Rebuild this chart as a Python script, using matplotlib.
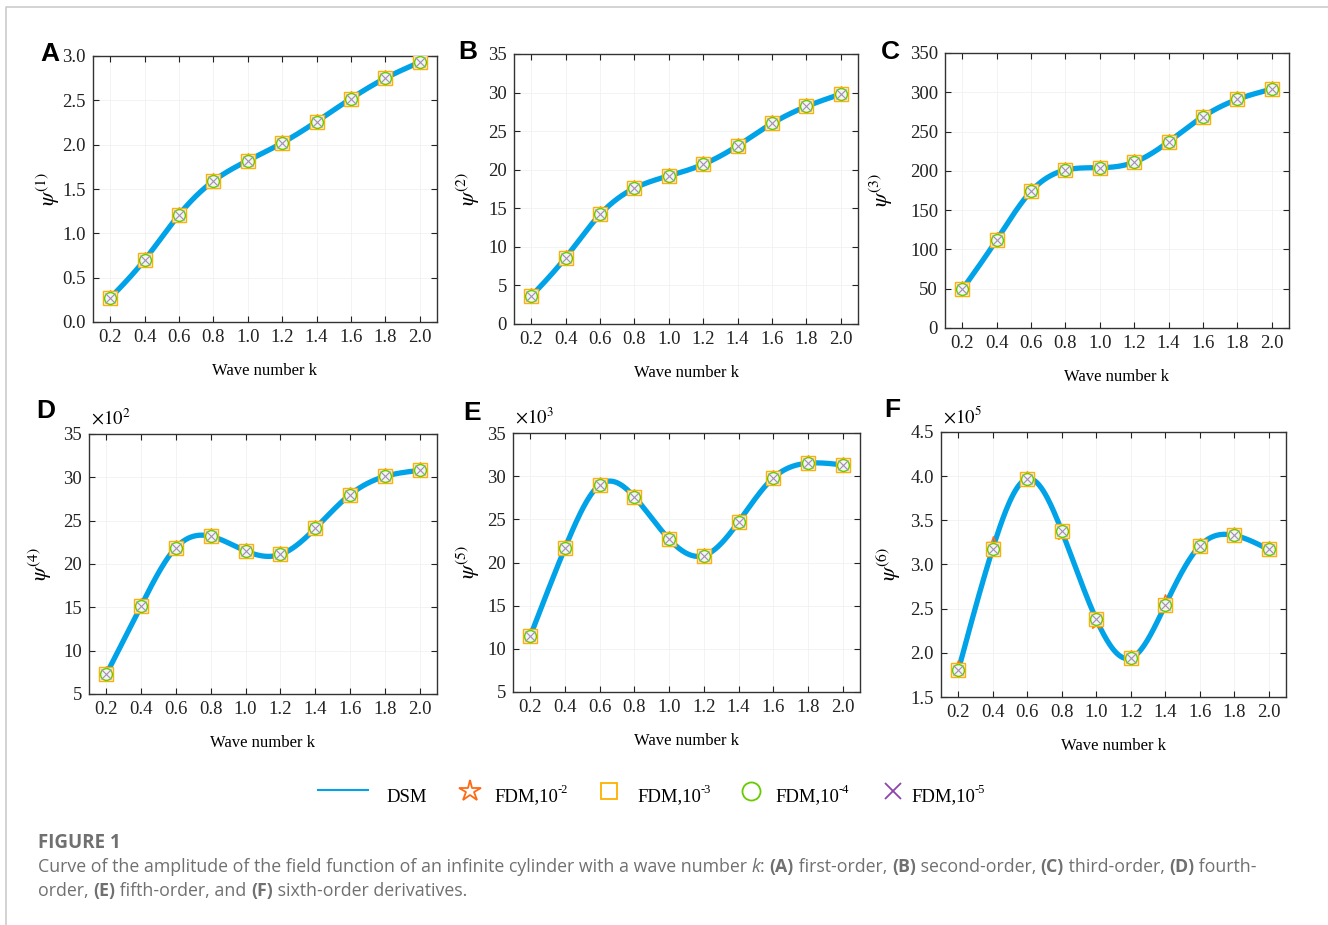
import numpy as np
import matplotlib
matplotlib.use("Agg")
import matplotlib.pyplot as plt
from matplotlib.lines import Line2D

# ---------------------------------------------------------------- data
k = [0.2, 0.4, 0.6, 0.8, 1.0, 1.2, 1.4, 1.6, 1.8, 2.0]

psi1 = [0.27, 0.70, 1.21, 1.59, 1.82, 2.02, 2.26, 2.52, 2.75, 2.93]
psi2 = [3.6, 8.6, 14.2, 17.6, 19.2, 20.7, 23.1, 26.0, 28.2, 29.8]
psi3 = [49, 112, 174, 201, 204, 211, 237, 269, 291, 304]
psi4 = [7.3, 15.2, 21.9, 23.2, 21.5, 21.1, 24.1, 28.0, 30.1, 30.8]        # x10^2
psi5 = [11.5, 21.7, 29.0, 27.6, 22.7, 20.8, 24.7, 29.8, 31.5, 31.3]       # x10^3
psi6 = [1.80, 3.18, 3.97, 3.38, 2.38, 1.94, 2.54, 3.21, 3.33, 3.17]       # x10^5
psi6_fdm2 = [1.83, 3.23, 3.97, 3.36, 2.35, 1.94, 2.57, 3.21, 3.33, 3.17]

xticks = [0.2, 0.4, 0.6, 0.8, 1.0, 1.2, 1.4, 1.6, 1.8, 2.0]
xticklabels = ["0.2", "0.4", "0.6", "0.8", "1.0", "1.2", "1.4", "1.6", "1.8", "2.0"]

# legend: base text, superscript
legend_labels = [("DSM", ""), ("FDM,10", "-2"), ("FDM,10", "-3"), ("FDM,10", "-4"), ("FDM,10", "-5")]

# panel: letter, values, star values, ylabel, yticks, tick format, multiplier
panels = [
    ("A", psi1, psi1, r"$\psi^{(1)}$", np.arange(0, 3.01, 0.5), "%.1f", None),
    ("B", psi2, psi2, r"$\psi^{(2)}$", np.arange(0, 36, 5), "%d", None),
    ("C", psi3, psi3, r"$\psi^{(3)}$", np.arange(0, 351, 50), "%d", None),
    ("D", psi4, psi4, r"$\psi^{(4)}$", np.arange(5, 36, 5), "%d", r"$\times10^{2}$"),
    ("E", psi5, psi5, r"$\psi^{(5)}$", np.arange(5, 36, 5), "%d", r"$\times10^{3}$"),
    ("F", psi6, psi6_fdm2, r"$\psi^{(6)}$", np.arange(1.5, 4.51, 0.5), "%.1f", r"$\times10^{5}$"),
]

# ---------------------------------------------------------------- layout (pixels)
W, H = 1328, 925
boxes = [(93, 437, 56, 322), (514, 858, 54, 324), (945, 1289, 53, 328),
         (89, 437, 434, 694), (513, 860, 433, 692), (941, 1286, 432, 697)]
letter_pos = [(50, 54), (468, 52), (890, 52), (46, 411), (472, 413), (892, 410)]
ylab_x = [-0.09, -0.093, -0.145, -0.10, -0.089, -0.11]

BLUE = "#00a2e8"
STAR = "#ff6a13"
SQUARE = "#ffb000"
CIRCLE = "#66cc00"
CROSS = "#8e44ad"

plt.rcParams["font.family"] = ["Liberation Serif"]
plt.rcParams["mathtext.fontset"] = "stix"


def spline(x, y, n=300):
    # natural cubic spline through the points, for the smooth DSM curve
    x = np.asarray(x, float)
    y = np.asarray(y, float)
    m = len(x)
    h = np.diff(x)
    A = np.zeros((m, m))
    b = np.zeros(m)
    A[0, 0] = A[-1, -1] = 1
    for i in range(1, m - 1):
        A[i, i - 1] = h[i - 1]
        A[i, i] = 2 * (h[i - 1] + h[i])
        A[i, i + 1] = h[i]
        b[i] = 3 * ((y[i + 1] - y[i]) / h[i] - (y[i] - y[i - 1]) / h[i - 1])
    c = np.linalg.solve(A, b)
    xs = np.linspace(x[0], x[-1], n)
    idx = np.clip(np.searchsorted(x, xs) - 1, 0, m - 2)
    dx = xs - x[idx]
    bb = (y[idx + 1] - y[idx]) / h[idx] - h[idx] * (2 * c[idx] + c[idx + 1]) / 3
    dd = (c[idx + 1] - c[idx]) / (3 * h[idx])
    ys = y[idx] + bb * dx + c[idx] * dx ** 2 + dd * dx ** 3
    return xs, ys


fig = plt.figure(figsize=(W / 100, H / 100), dpi=100)
renderer = fig.canvas.get_renderer()

for (letter, vals, star, ylab, yt, fmt, mult), (l, r, t, b), (lx, ly), yx in zip(
        panels, boxes, letter_pos, ylab_x):
    ax = fig.add_axes([l / W, 1 - b / H, (r - l) / W, (b - t) / H])
    ax.grid(True, color="#f1f1f1", lw=0.6)
    ax.set_axisbelow(True)
    xs, ys = spline(k, vals)
    ax.plot(xs, ys, color=BLUE, lw=3.8, zorder=2)
    ax.plot(k, star, ls="", marker="*", ms=11, mfc="none", mec=STAR, mew=1.0, zorder=3)
    ax.plot(k, vals, ls="", marker="s", ms=10, mfc="#f4f4f4", mec=SQUARE, mew=1.0, zorder=4)
    ax.plot(k, vals, ls="", marker="o", ms=8.5, mfc="none", mec=CIRCLE, mew=1.0, zorder=5)
    ax.plot(k, vals, ls="", marker="x", ms=6.5, mec="#a090b0", mew=0.8, zorder=6)
    ax.set_xlim(0.1, 2.1)
    ax.set_ylim(yt[0], yt[-1])
    ax.set_xticks(xticks)
    ax.set_xticklabels(xticklabels)
    ax.set_yticks(yt)
    ax.set_yticklabels([fmt % v for v in yt])
    ax.tick_params(direction="in", top=True, right=True, length=4, width=0.8,
                   labelsize=13.5, pad=5, colors="#222222")
    for s in ax.spines.values():
        s.set_color("#333333")
        s.set_linewidth(1.0)
    ax.set_xlabel("Wave number k", fontsize=12, labelpad=12)
    ax.set_ylabel(ylab, fontsize=16)
    ax.yaxis.set_label_coords(yx, 0.5)
    fig.text(lx / W, 1 - ly / H, letter, family="Liberation Sans", weight="bold",
             fontsize=19, ha="center", va="center")
    if mult:
        fig.text((l + 2) / W, 1 - (t - 16) / H, mult, fontsize=13.5, ha="left", va="center")

# ---------------------------------------------------------------- legend
ly = 1 - 797 / H
fig.add_artist(Line2D([318 / W, 368 / W], [1 - 790 / H] * 2, color=BLUE, lw=1.5))
legend_markers = [("*", STAR, 16), ("s", SQUARE, 12), ("o", CIRCLE, 13), ("x", CROSS, 11)]
marker_x = [470, 609, 751, 893]
text_x = [386, 494, 637, 775, 911]
for (m, c, ms), mx in zip(legend_markers, marker_x):
    fig.add_artist(Line2D([mx / W], [1 - 791 / H], ls="", marker=m, ms=ms, mfc="none",
                          mec=c, mew=1.3))
for (lab, sup), tx in zip(legend_labels, text_x):
    t = fig.text(tx / W, ly, lab, fontsize=13.5, ha="left", va="center")
    if sup:
        x1 = t.get_window_extent(renderer).x1
        fig.text(x1 / W, 1 - 790 / H, sup, fontsize=9, ha="left", va="center")

# ---------------------------------------------------------------- frame + caption
fig.add_artist(Line2D([6 / W, 6 / W, 1.0], [0.0, 1 - 7 / H, 1 - 7 / H], color="#cccccc", lw=1.2))

CAP = "Open Sans"
CAPC = "#707070"
fig.text(38 / W, 1 - 843 / H, "FIGURE 1", family=CAP, weight="bold", fontsize=13.5,
         color=CAPC, va="center")


def caption_line(parts, y):
    x = 38
    for txt, style in parts:
        kw = dict(family=CAP, fontsize=12.8, color=CAPC, va="center", ha="left")
        if style == "b":
            kw["weight"] = "bold"
        elif style == "i":
            kw["style"] = "italic"
        t = fig.text(x / W, 1 - y / H, txt, **kw)
        x = t.get_window_extent(renderer).x1


line1 = [("Curve of the amplitude of the field function of an infinite cylinder with a wave number ", ""),
         ("k", "i"), (": ", ""), ("(A)", "b"), (" first-order, ", ""), ("(B)", "b"),
         (" second-order, ", ""), ("(C)", "b"), (" third-order, ", ""), ("(D)", "b"),
         (" fourth-", "")]
line2 = [("order, ", ""), ("(E)", "b"), (" fifth-order, and ", ""), ("(F)", "b"),
         (" sixth-order derivatives.", "")]
caption_line(line1, 867)
caption_line(line2, 891)

fig.savefig("out.png", dpi=100)
